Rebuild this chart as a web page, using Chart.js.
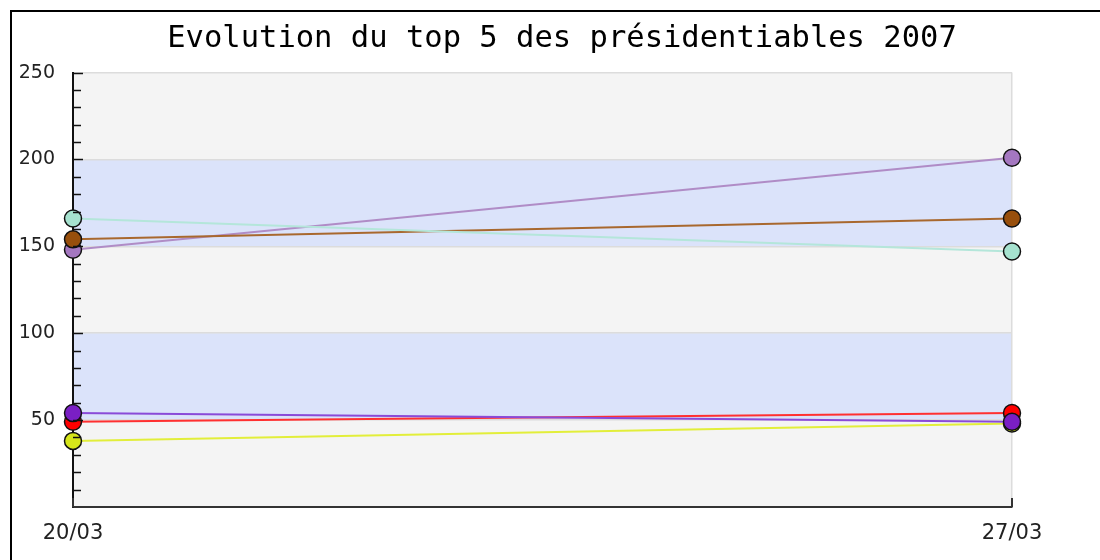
<!DOCTYPE html>
<html>
<head>
<meta charset="utf-8">
<script src="https://cdn.jsdelivr.net/npm/chart.js@4"></script>
<style>
html,body{margin:0;padding:0;background:#fff;overflow:hidden;}
#frame{position:absolute;left:10px;top:10px;width:1090px;height:550px;border-left:2px solid #000;border-top:2px solid #000;box-sizing:border-box;}
#wrap{position:absolute;left:0;top:0;width:1100px;height:560px;overflow:hidden;}
#c{position:absolute;left:0;top:0;}
</style>
</head>
<body>
<div id="frame"></div>
<div id="wrap"><canvas id="c" width="1124" height="560"></canvas></div>
<script>
const title = 'Evolution du top 5 des présidentiables 2007';
const categories = ['20/03', '27/03'];
const violetValues = [54, 49];
const redValues = [49, 54];
const yellowValues = [38, 48];
const tealValues = [166, 147];
const brownValues = [154, 166];
const lilacValues = [148, 201];
const yMin = 0, yMax = 250, yStep = 10, yLabelStep = 50;
const bands = [[50, 100], [150, 200]];

const backgroundPlugin = {
  id: 'bands',
  beforeDraw(chart) {
    const {ctx, chartArea: a, scales: {y}} = chart;
    ctx.save();
    ctx.fillStyle = '#f4f4f4';
    ctx.fillRect(a.left, a.top, a.right - a.left, a.bottom - a.top);
    ctx.fillStyle = '#dbe3fa';
    bands.forEach(([lo, hi]) => {
      const t = y.getPixelForValue(hi), b = y.getPixelForValue(lo);
      ctx.fillRect(a.left, t, a.right - a.left, b - t);
    });
    ctx.restore();
  },
  afterDraw(chart) {
    const {ctx, chartArea: a, scales: {x, y}} = chart;
    ctx.save();
    ctx.strokeStyle = '#111';
    ctx.lineWidth = 1.5;
    y.ticks.forEach(t => {
      if (t.value === 0) return;
      const py = Math.round(y.getPixelForValue(t.value)) + 0.5;
      const len = t.value % yLabelStep === 0 ? 10 : 8;
      ctx.beginPath();
      ctx.moveTo(a.left, py);
      ctx.lineTo(a.left + len, py);
      ctx.stroke();
    });
    ctx.strokeStyle = '#333';
    ctx.lineWidth = 2;
    categories.forEach((c, i) => {
      const px = x.getPixelForValue(i);
      ctx.beginPath();
      ctx.moveTo(px, a.bottom);
      ctx.lineTo(px, a.bottom - 9);
      ctx.stroke();
    });
    ctx.restore();
  }
};

function ds(label, data, fill, line) {
  return {
    label, data,
    yAxisID: 'y',
    borderColor: line,
    backgroundColor: fill,
    pointBackgroundColor: fill,
    pointBorderColor: '#111',
    pointBorderWidth: 1.5,
    pointRadius: 8.5,
    pointHoverRadius: 8.5,
    borderWidth: 2,
    tension: 0
  };
}

new Chart(document.getElementById('c'), {
  type: 'line',
  data: {
    labels: categories,
    datasets: [
      ds('violet', violetValues, '#7a1fc4', '#8a4ad8'),
      ds('rouge', redValues, '#ff0000', '#ff3030'),
      ds('jaune', yellowValues, '#d6e61a', '#e2ee3a'),
      ds('turquoise', tealValues, '#a6e2cf', '#b4e6da'),
      ds('marron', brownValues, '#984f0c', '#a8682e'),
      ds('lilas', lilacValues, '#a477c0', '#b08cc6')
    ]
  },
  options: {
    responsive: false,
    animation: false,
    events: [],
    layout: {padding: {left: 0, right: 0, top: 0, bottom: 0}},
    plugins: {
      legend: {display: false},
      tooltip: {enabled: false},
      title: {
        display: true,
        text: title,
        color: '#000',
        font: {family: 'DejaVu Sans Mono', size: 30.5, weight: 'normal'},
        padding: {top: 21, bottom: 15}
      }
    },
    scales: {
      x: {
        type: 'category',
        offset: false,
        grid: {color: '#dcdcdc', drawTicks: false, lineWidth: 1.5},
        border: {color: '#333', width: 2},
        ticks: {padding: 15, color: '#222', font: {family: 'DejaVu Sans', size: 21, lineHeight: 1.1}, maxRotation: 0}
      },
      y: {
        min: yMin, max: yMax,
        afterFit(scale) { scale.width = 73; },
        grid: {
          drawTicks: false,
          lineWidth: 1.5,
          color: c => (c.tick && c.tick.value % yLabelStep === 0) ? '#dcdcdc' : 'rgba(0,0,0,0)'
        },
        border: {color: '#111', width: 2},
        ticks: {
          stepSize: yStep,
          autoSkip: false,
          padding: 18,
          color: '#222',
          font: {family: 'DejaVu Sans', size: 19},
          callback: v => (v % yLabelStep === 0 && v > 0) ? String(v) : ''
        }
      },
      yRight: {
        type: 'linear',
        position: 'right',
        min: yMin, max: yMax,
        afterFit(scale) { scale.width = 112; },
        grid: {display: false, drawTicks: false},
        border: {display: false},
        ticks: {display: false}
      }
    }
  },
  plugins: [backgroundPlugin]
});
</script>
</body>
</html>
